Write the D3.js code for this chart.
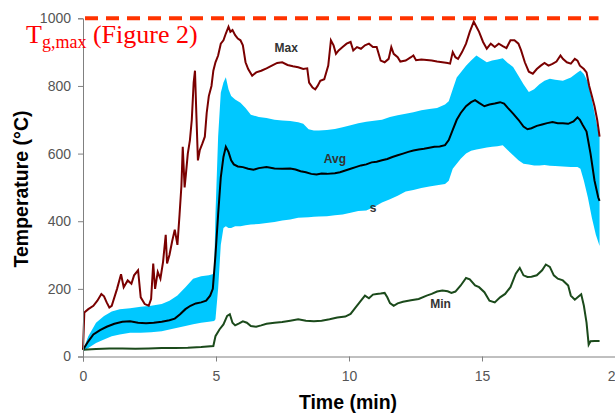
<!DOCTYPE html>
<html>
<head>
<meta charset="utf-8">
<script src="https://cdn.jsdelivr.net/npm/d3@7"></script>
<style>
  body { margin: 0; background: #fff; overflow: hidden; }
  svg { display: block; }
</style>
</head>
<body>
<div id="chart"></div>
<script>
// temperature traces: [time (min), temperature (°C)]
var maxData = [[0,20],[0.05,130],[0.2,140],[0.39,150],[0.54,165],[0.69,185],[0.79,178],[0.89,160],[0.99,145],[1.08,150],[1.28,200],[1.43,243],[1.53,205],[1.68,225],[1.82,215],[1.92,240],[2.07,255],[2.17,175],[2.32,155],[2.47,150],[2.56,170],[2.64,275],[2.71,200],[2.81,250],[2.91,230],[3.01,280],[3.11,360],[3.16,275],[3.25,300],[3.35,340],[3.45,375],[3.55,330],[3.63,420],[3.70,505],[3.75,620],[3.82,500],[3.87,540],[3.94,600],[4.02,640],[4.09,700],[4.16,810],[4.21,845],[4.26,720],[4.32,580],[4.39,610],[4.49,630],[4.58,650],[4.65,720],[4.73,770],[4.83,800],[4.90,845],[4.98,870],[5.08,890],[5.18,925],[5.28,935],[5.37,955],[5.47,975],[5.54,960],[5.62,965],[5.72,950],[5.82,940],[5.92,935],[6.01,920],[6.11,870],[6.21,850],[6.36,830],[6.51,840],[6.70,845],[6.90,852],[7.10,860],[7.30,868],[7.49,870],[7.69,862],[7.89,858],[8.09,855],[8.28,850],[8.43,852],[8.50,810],[8.63,795],[8.73,790],[8.82,800],[8.92,815],[9.07,820],[9.22,860],[9.32,935],[9.42,920],[9.51,895],[9.61,905],[9.76,915],[9.91,925],[10.06,930],[10.16,905],[10.30,915],[10.45,910],[10.60,920],[10.75,925],[10.90,915],[11.04,915],[11.19,875],[11.34,870],[11.49,880],[11.59,915],[11.68,895],[11.83,885],[11.93,872],[12.13,875],[12.33,885],[12.42,890],[12.52,876],[12.72,878],[12.92,877],[13.11,875],[13.31,872],[13.51,870],[13.71,868],[13.80,866],[13.90,900],[14.00,885],[14.10,880],[14.25,900],[14.40,925],[14.54,960],[14.69,990],[14.79,975],[14.89,960],[15.04,930],[15.18,910],[15.33,925],[15.48,915],[15.63,925],[15.78,918],[15.92,912],[16.07,935],[16.22,935],[16.37,925],[16.47,905],[16.61,870],[16.76,842],[16.91,836],[17.06,850],[17.21,860],[17.35,868],[17.50,860],[17.65,865],[17.80,872],[17.95,890],[18.04,880],[18.19,870],[18.34,866],[18.49,880],[18.59,875],[18.68,860],[18.83,850],[18.93,840],[19.03,800],[19.13,770],[19.23,740],[19.33,700],[19.42,650]];

var avgData = [[0,20],[0.2,45],[0.39,65],[0.64,78],[0.89,88],[1.18,97],[1.48,103],[1.77,104],[2.07,100],[2.37,98],[2.66,100],[2.96,103],[3.25,107],[3.45,112],[3.65,125],[3.85,140],[4.04,150],[4.24,157],[4.44,160],[4.63,165],[4.78,180],[4.88,200],[4.98,300],[5.08,420],[5.18,530],[5.28,590],[5.37,620],[5.47,605],[5.57,580],[5.67,568],[5.82,562],[6.01,560],[6.21,555],[6.41,552],[6.61,557],[6.90,560],[7.20,556],[7.49,555],[7.79,556],[7.99,553],[8.18,548],[8.38,545],[8.58,540],[8.78,538],[8.97,541],[9.17,540],[9.47,542],[9.66,545],[9.86,550],[10.06,555],[10.25,560],[10.45,565],[10.65,568],[10.85,574],[11.04,576],[11.24,580],[11.44,584],[11.63,590],[11.83,595],[12.03,600],[12.23,605],[12.42,609],[12.62,612],[12.82,614],[13.02,617],[13.21,620],[13.41,621],[13.61,625],[13.75,640],[13.90,670],[14.05,700],[14.20,720],[14.40,740],[14.59,752],[14.74,758],[14.89,750],[15.09,740],[15.28,745],[15.48,748],[15.68,752],[15.83,748],[15.97,735],[16.17,718],[16.37,700],[16.56,680],[16.71,672],[16.86,675],[17.06,682],[17.26,686],[17.45,690],[17.65,693],[17.85,690],[18.04,690],[18.24,688],[18.44,695],[18.59,707],[18.68,700],[18.78,685],[18.93,665],[19.08,600],[19.23,520],[19.37,470],[19.42,460]];

// spread band (s): [time, lower, upper]
var bandData = [[0,15,20],[0.2,25,60],[0.49,40,100],[0.79,50,120],[1.08,60,133],[1.38,65,140],[1.77,70,143],[2.17,70,147],[2.56,72,150],[2.96,75,155],[3.25,80,165],[3.55,85,180],[3.85,90,205],[4.14,95,230],[4.44,100,237],[4.73,103,240],[4.93,105,245],[4.98,110,420],[5.08,200,650],[5.18,330,780],[5.28,380,810],[5.37,385,826],[5.47,380,790],[5.57,380,770],[5.72,385,760],[5.92,385,750],[6.11,388,735],[6.31,390,715],[6.61,392,708],[6.90,395,705],[7.20,398,700],[7.49,402,698],[7.79,405,696],[8.09,410,693],[8.28,411,688],[8.48,412,672],[8.68,413,668],[8.87,414,668],[9.17,415,670],[9.47,418,673],[9.76,420,678],[10.06,425,684],[10.35,430,690],[10.65,432,694],[10.94,442,697],[11.24,455,700],[11.54,465,708],[11.83,475,713],[12.13,488,718],[12.42,492,722],[12.72,498,728],[13.02,503,732],[13.31,506,735],[13.61,510,745],[13.75,520,755],[13.90,555,790],[14.05,570,825],[14.20,585,840],[14.40,600,860],[14.59,608,875],[14.79,612,890],[14.99,615,880],[15.18,618,870],[15.38,620,875],[15.58,622,878],[15.78,625,882],[15.97,610,868],[16.17,595,856],[16.37,580,830],[16.56,570,805],[16.76,568,782],[16.96,565,790],[17.16,565,805],[17.35,566,815],[17.55,564,821],[17.75,563,818],[18.04,562,815],[18.34,560,825],[18.59,560,840],[18.70,555,846],[18.83,520,835],[18.98,470,812],[19.13,410,760],[19.28,360,700],[19.42,327,648]];

var minData = [[0,20],[0.49,22],[0.99,24],[1.48,24],[1.97,23],[2.47,24],[2.96,25],[3.45,25],[3.94,26],[4.44,28],[4.90,31],[4.98,60],[5.13,80],[5.28,95],[5.42,120],[5.52,125],[5.62,100],[5.72,92],[5.87,98],[6.01,104],[6.16,100],[6.31,90],[6.51,88],[6.70,92],[6.90,97],[7.20,100],[7.49,102],[7.79,106],[8.09,110],[8.38,106],[8.68,104],[8.97,106],[9.27,110],[9.56,115],[9.86,118],[10.06,126],[10.25,145],[10.45,165],[10.60,180],[10.75,172],[10.90,183],[11.04,185],[11.19,186],[11.34,188],[11.44,175],[11.54,158],[11.68,150],[11.83,157],[12.03,162],[12.33,166],[12.62,170],[12.92,180],[13.11,185],[13.31,192],[13.51,195],[13.71,193],[13.85,188],[14.00,192],[14.20,210],[14.40,232],[14.54,228],[14.74,210],[14.89,205],[15.09,190],[15.28,165],[15.48,160],[15.68,175],[15.87,185],[16.07,205],[16.27,245],[16.42,262],[16.56,240],[16.71,235],[16.86,236],[17.06,240],[17.26,255],[17.40,272],[17.55,265],[17.70,240],[17.85,230],[18.04,225],[18.24,210],[18.34,180],[18.49,168],[18.64,178],[18.73,184],[18.83,150],[18.93,100],[19.01,35],[19.08,45],[19.23,46],[19.42,46]];

var xTicks = [0, 5, 10, 15, 20];
var yTicks = [0, 200, 400, 600, 800, 1000];
var tgMax = 1000;
var dashEnd = 19.38;

// series labels placed next to the curves: [text, time, temperature]
var seriesLabels = [["Max", 7.64, 900], ["Avg", 9.47, 571], ["s", 10.91, 426], ["Min", 13.44, 142]];

var margin = {top: 18.3, left: 83, right: 0, bottom: 57.5},
    width = 615 - margin.left - margin.right,
    height = 414 - margin.top - margin.bottom;

var svg = d3.select("#chart")
            .append("svg")
            .attr("width", 615)
            .attr("height", 414)
            .append("g")
                .attr("transform", "translate(" + margin.left + "," + margin.top + ")");

var x = d3.scaleLinear().domain([0, 20]).range([0, width]);
var y = d3.scaleLinear().domain([0, 1000]).range([height, 0]);

// s band
svg.append("path")
   .datum(bandData)
   .attr("fill", "#00c8ff")
   .attr("d", d3.area()
       .x(function(d) { return x(d[0]); })
       .y0(function(d) { return y(d[1]); })
       .y1(function(d) { return y(d[2]); }));

var line = d3.line()
             .x(function(d) { return x(d[0]); })
             .y(function(d) { return y(d[1]); });

svg.append("path").datum(maxData)
   .attr("fill", "none").attr("stroke", "#7a0000").attr("stroke-width", 2).attr("d", line);
svg.append("path").datum(minData)
   .attr("fill", "none").attr("stroke", "#1b4a1b").attr("stroke-width", 2).attr("d", line);
svg.append("path").datum(avgData)
   .attr("fill", "none").attr("stroke", "#000").attr("stroke-width", 2).attr("d", line);

// axes
var xAxis = svg.append("g")
   .attr("transform", "translate(0," + height + ")")
   .call(d3.axisBottom(x).tickValues(xTicks).tickSize(5).tickPadding(10));
var yAxis = svg.append("g")
   .call(d3.axisLeft(y).tickValues(yTicks).tickFormat(d3.format("d")).tickSize(5).tickPadding(7));

[xAxis, yAxis].forEach(function(a) {
    a.selectAll("path, line").attr("stroke", "#808080");
    a.selectAll("text")
     .attr("fill", "#555")
     .style("font-family", "Arial, 'Liberation Sans', sans-serif")
     .style("font-size", "14px");
});

// Tg,max dashed line
svg.append("line")
   .attr("x1", x(0) + 2).attr("x2", x(dashEnd))
   .attr("y1", y(tgMax)).attr("y2", y(tgMax))
   .attr("stroke", "#ff3300")
   .attr("stroke-width", 4)
   .attr("stroke-dasharray", "13,8");

var tg = svg.append("text")
   .attr("x", 26 - margin.left)
   .attr("y", 43 - margin.top)
   .attr("fill", "#ff0000")
   .style("font-family", "'Liberation Serif', 'Times New Roman', serif")
   .style("font-size", "26px");
tg.append("tspan").text("T");
tg.append("tspan").attr("dy", 5.5).style("font-size", "18px").text("g,max");
tg.append("tspan").attr("dy", -5.5).text(" (Figure 2)");

// series labels
svg.selectAll(".slabel")
   .data(seriesLabels)
   .enter()
   .append("text")
       .attr("x", function(d) { return x(d[1]); })
       .attr("y", function(d) { return y(d[2]); })
       .attr("text-anchor", "middle")
       .attr("fill", "#333")
       .style("font-family", "Arial, 'Liberation Sans', sans-serif")
       .style("font-size", "12px")
       .style("font-weight", "bold")
       .text(function(d) { return d[0]; });

// axis titles
svg.append("text")
   .attr("x", 348 - margin.left)
   .attr("y", 409 - margin.top)
   .attr("text-anchor", "middle")
   .style("font-family", "Arial, 'Liberation Sans', sans-serif")
   .style("font-size", "19.5px")
   .style("font-weight", "bold")
   .text("Time (min)");

svg.append("text")
   .attr("transform", "translate(" + (28 - margin.left) + "," + (189 - margin.top) + ") rotate(-90)")
   .attr("text-anchor", "middle")
   .style("font-family", "Arial, 'Liberation Sans', sans-serif")
   .style("font-size", "19.5px")
   .style("font-weight", "bold")
   .text("Temperature (°C)");
</script>
</body>
</html>
